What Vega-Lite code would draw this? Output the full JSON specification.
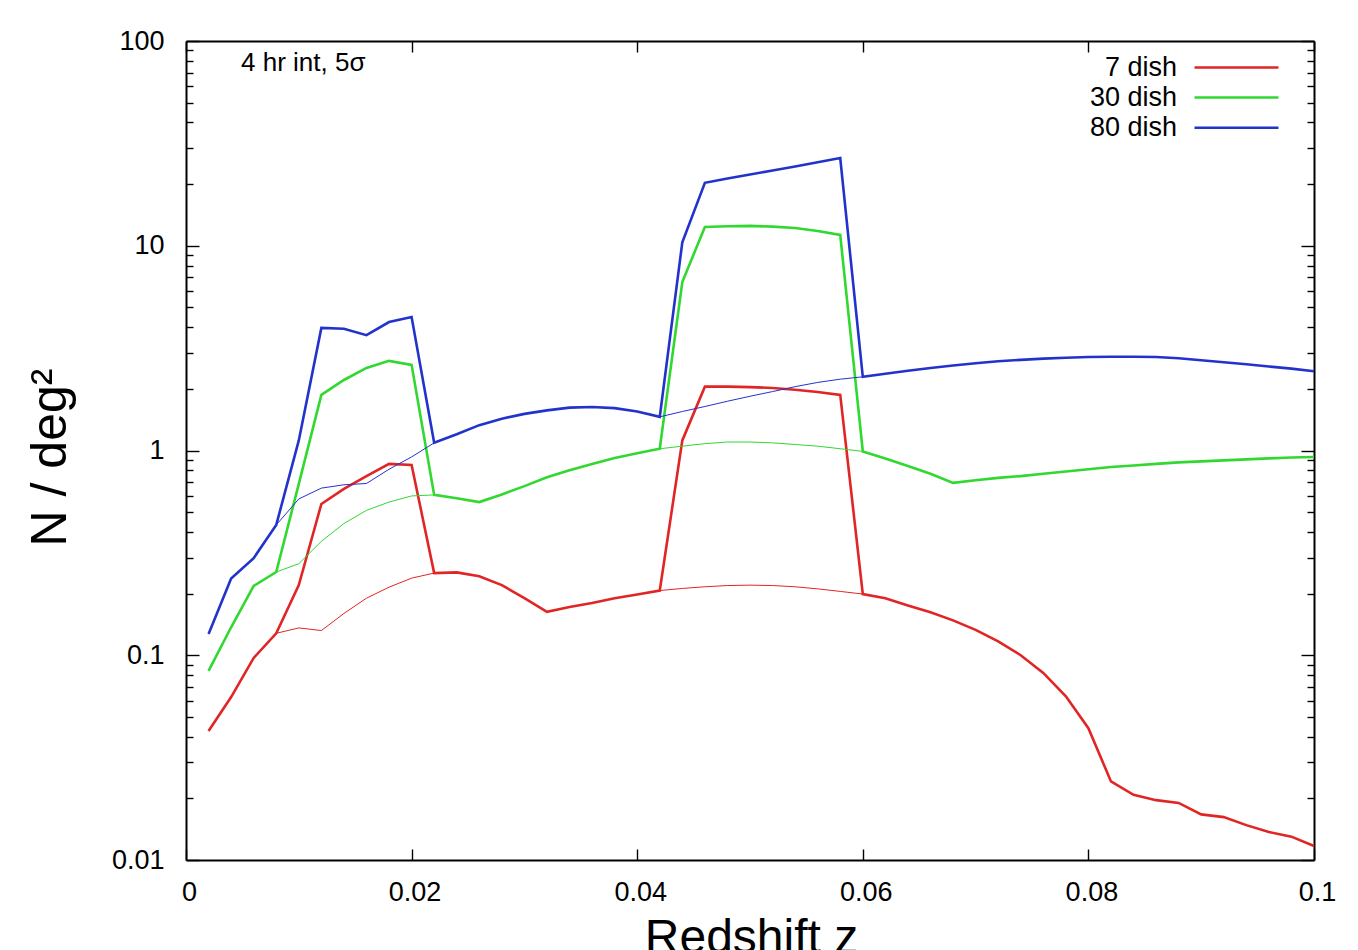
{
  "$schema": "https://vega.github.io/schema/vega-lite/v6.json",
  "width": 1128,
  "height": 819,
  "autosize": {"type": "none"},
  "padding": {"left": 186, "top": 41, "right": 44, "bottom": 90},
  "background": "white",
  "config": {
    "view": {"stroke": null},
    "font": "Liberation Sans",
    "axis": {"grid": false, "domainColor": "#000", "domainWidth": 2, "tickColor": "#000", "tickWidth": 1.4, "labelColor": "#000", "titleColor": "#000", "labelFont": "Liberation Sans", "titleFont": "Liberation Sans", "labelFontSize": 27, "titleFontWeight": "normal"},
    "legend": {"orient": "none", "legendX": 1037, "legendY": 13, "padding": 0, "labelAlign": "right", "labelOffset": -73, "labelFontSize": 27, "labelFont": "Liberation Sans", "labelColor": "#000", "symbolType": "M-5,0H5", "symbolSize": 282, "symbolStrokeWidth": 2.5, "rowPadding": 2.1, "labelLimit": 0}
  },
  "datasets": {
    "curves": [
    {"dish":"7 dish","kind":"thick","part":0,"z":0.002,"n":0.0427},
    {"dish":"7 dish","kind":"thick","part":0,"z":0.004,"n":0.0625},
    {"dish":"7 dish","kind":"thick","part":0,"z":0.006,"n":0.097},
    {"dish":"7 dish","kind":"thick","part":0,"z":0.008,"n":0.128},
    {"dish":"7 dish","kind":"thick","part":0,"z":0.010,"n":0.22},
    {"dish":"7 dish","kind":"thick","part":0,"z":0.012,"n":0.548},
    {"dish":"7 dish","kind":"thick","part":0,"z":0.014,"n":0.65},
    {"dish":"7 dish","kind":"thick","part":0,"z":0.016,"n":0.75},
    {"dish":"7 dish","kind":"thick","part":0,"z":0.018,"n":0.86},
    {"dish":"7 dish","kind":"thick","part":0,"z":0.020,"n":0.85},
    {"dish":"7 dish","kind":"thick","part":0,"z":0.022,"n":0.252},
    {"dish":"7 dish","kind":"thick","part":0,"z":0.024,"n":0.254},
    {"dish":"7 dish","kind":"thick","part":0,"z":0.026,"n":0.243},
    {"dish":"7 dish","kind":"thick","part":0,"z":0.028,"n":0.22},
    {"dish":"7 dish","kind":"thick","part":0,"z":0.030,"n":0.19},
    {"dish":"7 dish","kind":"thick","part":0,"z":0.032,"n":0.163},
    {"dish":"7 dish","kind":"thick","part":0,"z":0.034,"n":0.172},
    {"dish":"7 dish","kind":"thick","part":0,"z":0.036,"n":0.18},
    {"dish":"7 dish","kind":"thick","part":0,"z":0.038,"n":0.19},
    {"dish":"7 dish","kind":"thick","part":0,"z":0.040,"n":0.198},
    {"dish":"7 dish","kind":"thick","part":0,"z":0.042,"n":0.207},
    {"dish":"7 dish","kind":"thick","part":0,"z":0.044,"n":1.12},
    {"dish":"7 dish","kind":"thick","part":0,"z":0.046,"n":2.05},
    {"dish":"7 dish","kind":"thick","part":0,"z":0.048,"n":2.05},
    {"dish":"7 dish","kind":"thick","part":0,"z":0.050,"n":2.04},
    {"dish":"7 dish","kind":"thick","part":0,"z":0.052,"n":2.02},
    {"dish":"7 dish","kind":"thick","part":0,"z":0.054,"n":1.98},
    {"dish":"7 dish","kind":"thick","part":0,"z":0.056,"n":1.93},
    {"dish":"7 dish","kind":"thick","part":0,"z":0.058,"n":1.87},
    {"dish":"7 dish","kind":"thick","part":0,"z":0.060,"n":0.199},
    {"dish":"7 dish","kind":"thick","part":0,"z":0.062,"n":0.19},
    {"dish":"7 dish","kind":"thick","part":0,"z":0.064,"n":0.175},
    {"dish":"7 dish","kind":"thick","part":0,"z":0.066,"n":0.162},
    {"dish":"7 dish","kind":"thick","part":0,"z":0.068,"n":0.148},
    {"dish":"7 dish","kind":"thick","part":0,"z":0.070,"n":0.133},
    {"dish":"7 dish","kind":"thick","part":0,"z":0.072,"n":0.117},
    {"dish":"7 dish","kind":"thick","part":0,"z":0.074,"n":0.1},
    {"dish":"7 dish","kind":"thick","part":0,"z":0.076,"n":0.082},
    {"dish":"7 dish","kind":"thick","part":0,"z":0.078,"n":0.063},
    {"dish":"7 dish","kind":"thick","part":0,"z":0.080,"n":0.044},
    {"dish":"7 dish","kind":"thick","part":0,"z":0.082,"n":0.0242},
    {"dish":"7 dish","kind":"thick","part":0,"z":0.084,"n":0.0208},
    {"dish":"7 dish","kind":"thick","part":0,"z":0.086,"n":0.0196},
    {"dish":"7 dish","kind":"thick","part":0,"z":0.088,"n":0.019},
    {"dish":"7 dish","kind":"thick","part":0,"z":0.090,"n":0.0167},
    {"dish":"7 dish","kind":"thick","part":0,"z":0.092,"n":0.0162},
    {"dish":"7 dish","kind":"thick","part":0,"z":0.094,"n":0.0148},
    {"dish":"7 dish","kind":"thick","part":0,"z":0.096,"n":0.0137},
    {"dish":"7 dish","kind":"thick","part":0,"z":0.098,"n":0.013},
    {"dish":"7 dish","kind":"thick","part":0,"z":0.100,"n":0.0117},
    {"dish":"7 dish","kind":"thin","part":1,"z":0.008,"n":0.128},
    {"dish":"7 dish","kind":"thin","part":1,"z":0.010,"n":0.136},
    {"dish":"7 dish","kind":"thin","part":1,"z":0.012,"n":0.132},
    {"dish":"7 dish","kind":"thin","part":1,"z":0.014,"n":0.16},
    {"dish":"7 dish","kind":"thin","part":1,"z":0.016,"n":0.19},
    {"dish":"7 dish","kind":"thin","part":1,"z":0.018,"n":0.215},
    {"dish":"7 dish","kind":"thin","part":1,"z":0.020,"n":0.238},
    {"dish":"7 dish","kind":"thin","part":1,"z":0.022,"n":0.252},
    {"dish":"7 dish","kind":"thin","part":2,"z":0.042,"n":0.207},
    {"dish":"7 dish","kind":"thin","part":2,"z":0.044,"n":0.212},
    {"dish":"7 dish","kind":"thin","part":2,"z":0.046,"n":0.216},
    {"dish":"7 dish","kind":"thin","part":2,"z":0.048,"n":0.219},
    {"dish":"7 dish","kind":"thin","part":2,"z":0.050,"n":0.22},
    {"dish":"7 dish","kind":"thin","part":2,"z":0.052,"n":0.219},
    {"dish":"7 dish","kind":"thin","part":2,"z":0.054,"n":0.216},
    {"dish":"7 dish","kind":"thin","part":2,"z":0.056,"n":0.211},
    {"dish":"7 dish","kind":"thin","part":2,"z":0.058,"n":0.205},
    {"dish":"7 dish","kind":"thin","part":2,"z":0.060,"n":0.199},

    {"dish":"30 dish","kind":"thick","part":0,"z":0.002,"n":0.0838},
    {"dish":"30 dish","kind":"thick","part":0,"z":0.004,"n":0.137},
    {"dish":"30 dish","kind":"thick","part":0,"z":0.006,"n":0.218},
    {"dish":"30 dish","kind":"thick","part":0,"z":0.008,"n":0.255},
    {"dish":"30 dish","kind":"thick","part":0,"z":0.010,"n":0.687},
    {"dish":"30 dish","kind":"thick","part":0,"z":0.012,"n":1.87},
    {"dish":"30 dish","kind":"thick","part":0,"z":0.014,"n":2.21},
    {"dish":"30 dish","kind":"thick","part":0,"z":0.016,"n":2.53},
    {"dish":"30 dish","kind":"thick","part":0,"z":0.018,"n":2.74},
    {"dish":"30 dish","kind":"thick","part":0,"z":0.020,"n":2.62},
    {"dish":"30 dish","kind":"thick","part":0,"z":0.022,"n":0.607},
    {"dish":"30 dish","kind":"thick","part":0,"z":0.024,"n":0.585},
    {"dish":"30 dish","kind":"thick","part":0,"z":0.026,"n":0.56},
    {"dish":"30 dish","kind":"thick","part":0,"z":0.028,"n":0.61},
    {"dish":"30 dish","kind":"thick","part":0,"z":0.030,"n":0.67},
    {"dish":"30 dish","kind":"thick","part":0,"z":0.032,"n":0.74},
    {"dish":"30 dish","kind":"thick","part":0,"z":0.034,"n":0.8},
    {"dish":"30 dish","kind":"thick","part":0,"z":0.036,"n":0.86},
    {"dish":"30 dish","kind":"thick","part":0,"z":0.038,"n":0.92},
    {"dish":"30 dish","kind":"thick","part":0,"z":0.040,"n":0.97},
    {"dish":"30 dish","kind":"thick","part":0,"z":0.042,"n":1.02},
    {"dish":"30 dish","kind":"thick","part":0,"z":0.044,"n":6.65},
    {"dish":"30 dish","kind":"thick","part":0,"z":0.046,"n":12.35},
    {"dish":"30 dish","kind":"thick","part":0,"z":0.048,"n":12.45},
    {"dish":"30 dish","kind":"thick","part":0,"z":0.050,"n":12.5},
    {"dish":"30 dish","kind":"thick","part":0,"z":0.052,"n":12.4},
    {"dish":"30 dish","kind":"thick","part":0,"z":0.054,"n":12.2},
    {"dish":"30 dish","kind":"thick","part":0,"z":0.056,"n":11.8},
    {"dish":"30 dish","kind":"thick","part":0,"z":0.058,"n":11.3},
    {"dish":"30 dish","kind":"thick","part":0,"z":0.060,"n":0.99},
    {"dish":"30 dish","kind":"thick","part":0,"z":0.062,"n":0.915},
    {"dish":"30 dish","kind":"thick","part":0,"z":0.064,"n":0.84},
    {"dish":"30 dish","kind":"thick","part":0,"z":0.066,"n":0.77},
    {"dish":"30 dish","kind":"thick","part":0,"z":0.068,"n":0.695},
    {"dish":"30 dish","kind":"thick","part":0,"z":0.070,"n":0.715},
    {"dish":"30 dish","kind":"thick","part":0,"z":0.072,"n":0.735},
    {"dish":"30 dish","kind":"thick","part":0,"z":0.074,"n":0.75},
    {"dish":"30 dish","kind":"thick","part":0,"z":0.076,"n":0.77},
    {"dish":"30 dish","kind":"thick","part":0,"z":0.078,"n":0.79},
    {"dish":"30 dish","kind":"thick","part":0,"z":0.080,"n":0.81},
    {"dish":"30 dish","kind":"thick","part":0,"z":0.082,"n":0.83},
    {"dish":"30 dish","kind":"thick","part":0,"z":0.084,"n":0.845},
    {"dish":"30 dish","kind":"thick","part":0,"z":0.086,"n":0.86},
    {"dish":"30 dish","kind":"thick","part":0,"z":0.088,"n":0.875},
    {"dish":"30 dish","kind":"thick","part":0,"z":0.090,"n":0.885},
    {"dish":"30 dish","kind":"thick","part":0,"z":0.092,"n":0.895},
    {"dish":"30 dish","kind":"thick","part":0,"z":0.094,"n":0.905},
    {"dish":"30 dish","kind":"thick","part":0,"z":0.096,"n":0.915},
    {"dish":"30 dish","kind":"thick","part":0,"z":0.098,"n":0.925},
    {"dish":"30 dish","kind":"thick","part":0,"z":0.100,"n":0.93},
    {"dish":"30 dish","kind":"thin","part":1,"z":0.008,"n":0.255},
    {"dish":"30 dish","kind":"thin","part":1,"z":0.010,"n":0.28},
    {"dish":"30 dish","kind":"thin","part":1,"z":0.012,"n":0.36},
    {"dish":"30 dish","kind":"thin","part":1,"z":0.014,"n":0.44},
    {"dish":"30 dish","kind":"thin","part":1,"z":0.016,"n":0.51},
    {"dish":"30 dish","kind":"thin","part":1,"z":0.018,"n":0.56},
    {"dish":"30 dish","kind":"thin","part":1,"z":0.020,"n":0.6},
    {"dish":"30 dish","kind":"thin","part":1,"z":0.022,"n":0.607},
    {"dish":"30 dish","kind":"thin","part":2,"z":0.042,"n":1.02},
    {"dish":"30 dish","kind":"thin","part":2,"z":0.044,"n":1.05},
    {"dish":"30 dish","kind":"thin","part":2,"z":0.046,"n":1.08},
    {"dish":"30 dish","kind":"thin","part":2,"z":0.048,"n":1.1},
    {"dish":"30 dish","kind":"thin","part":2,"z":0.050,"n":1.1},
    {"dish":"30 dish","kind":"thin","part":2,"z":0.052,"n":1.09},
    {"dish":"30 dish","kind":"thin","part":2,"z":0.054,"n":1.07},
    {"dish":"30 dish","kind":"thin","part":2,"z":0.056,"n":1.05},
    {"dish":"30 dish","kind":"thin","part":2,"z":0.058,"n":1.02},
    {"dish":"30 dish","kind":"thin","part":2,"z":0.060,"n":0.99},

    {"dish":"80 dish","kind":"thick","part":0,"z":0.002,"n":0.127},
    {"dish":"80 dish","kind":"thick","part":0,"z":0.004,"n":0.237},
    {"dish":"80 dish","kind":"thick","part":0,"z":0.006,"n":0.298},
    {"dish":"80 dish","kind":"thick","part":0,"z":0.008,"n":0.433},
    {"dish":"80 dish","kind":"thick","part":0,"z":0.010,"n":1.12},
    {"dish":"80 dish","kind":"thick","part":0,"z":0.012,"n":3.97},
    {"dish":"80 dish","kind":"thick","part":0,"z":0.014,"n":3.93},
    {"dish":"80 dish","kind":"thick","part":0,"z":0.016,"n":3.66},
    {"dish":"80 dish","kind":"thick","part":0,"z":0.018,"n":4.24},
    {"dish":"80 dish","kind":"thick","part":0,"z":0.020,"n":4.49},
    {"dish":"80 dish","kind":"thick","part":0,"z":0.022,"n":1.09},
    {"dish":"80 dish","kind":"thick","part":0,"z":0.024,"n":1.2},
    {"dish":"80 dish","kind":"thick","part":0,"z":0.026,"n":1.33},
    {"dish":"80 dish","kind":"thick","part":0,"z":0.028,"n":1.43},
    {"dish":"80 dish","kind":"thick","part":0,"z":0.030,"n":1.51},
    {"dish":"80 dish","kind":"thick","part":0,"z":0.032,"n":1.57},
    {"dish":"80 dish","kind":"thick","part":0,"z":0.034,"n":1.62},
    {"dish":"80 dish","kind":"thick","part":0,"z":0.036,"n":1.63},
    {"dish":"80 dish","kind":"thick","part":0,"z":0.038,"n":1.61},
    {"dish":"80 dish","kind":"thick","part":0,"z":0.040,"n":1.55},
    {"dish":"80 dish","kind":"thick","part":0,"z":0.042,"n":1.46},
    {"dish":"80 dish","kind":"thick","part":0,"z":0.044,"n":10.4},
    {"dish":"80 dish","kind":"thick","part":0,"z":0.046,"n":20.3},
    {"dish":"80 dish","kind":"thick","part":0,"z":0.048,"n":21.3},
    {"dish":"80 dish","kind":"thick","part":0,"z":0.050,"n":22.3},
    {"dish":"80 dish","kind":"thick","part":0,"z":0.052,"n":23.3},
    {"dish":"80 dish","kind":"thick","part":0,"z":0.054,"n":24.4},
    {"dish":"80 dish","kind":"thick","part":0,"z":0.056,"n":25.6},
    {"dish":"80 dish","kind":"thick","part":0,"z":0.058,"n":26.8},
    {"dish":"80 dish","kind":"thick","part":0,"z":0.060,"n":2.29},
    {"dish":"80 dish","kind":"thick","part":0,"z":0.062,"n":2.37},
    {"dish":"80 dish","kind":"thick","part":0,"z":0.064,"n":2.45},
    {"dish":"80 dish","kind":"thick","part":0,"z":0.066,"n":2.53},
    {"dish":"80 dish","kind":"thick","part":0,"z":0.068,"n":2.6},
    {"dish":"80 dish","kind":"thick","part":0,"z":0.070,"n":2.67},
    {"dish":"80 dish","kind":"thick","part":0,"z":0.072,"n":2.73},
    {"dish":"80 dish","kind":"thick","part":0,"z":0.074,"n":2.77},
    {"dish":"80 dish","kind":"thick","part":0,"z":0.076,"n":2.81},
    {"dish":"80 dish","kind":"thick","part":0,"z":0.078,"n":2.84},
    {"dish":"80 dish","kind":"thick","part":0,"z":0.080,"n":2.86},
    {"dish":"80 dish","kind":"thick","part":0,"z":0.082,"n":2.87},
    {"dish":"80 dish","kind":"thick","part":0,"z":0.084,"n":2.87},
    {"dish":"80 dish","kind":"thick","part":0,"z":0.086,"n":2.86},
    {"dish":"80 dish","kind":"thick","part":0,"z":0.088,"n":2.82},
    {"dish":"80 dish","kind":"thick","part":0,"z":0.090,"n":2.76},
    {"dish":"80 dish","kind":"thick","part":0,"z":0.092,"n":2.7},
    {"dish":"80 dish","kind":"thick","part":0,"z":0.094,"n":2.64},
    {"dish":"80 dish","kind":"thick","part":0,"z":0.096,"n":2.57},
    {"dish":"80 dish","kind":"thick","part":0,"z":0.098,"n":2.51},
    {"dish":"80 dish","kind":"thick","part":0,"z":0.100,"n":2.44},
    {"dish":"80 dish","kind":"thin","part":1,"z":0.008,"n":0.433},
    {"dish":"80 dish","kind":"thin","part":1,"z":0.010,"n":0.58},
    {"dish":"80 dish","kind":"thin","part":1,"z":0.012,"n":0.655},
    {"dish":"80 dish","kind":"thin","part":1,"z":0.014,"n":0.68},
    {"dish":"80 dish","kind":"thin","part":1,"z":0.016,"n":0.69},
    {"dish":"80 dish","kind":"thin","part":1,"z":0.018,"n":0.81},
    {"dish":"80 dish","kind":"thin","part":1,"z":0.020,"n":0.93},
    {"dish":"80 dish","kind":"thin","part":1,"z":0.022,"n":1.09},
    {"dish":"80 dish","kind":"thin","part":2,"z":0.042,"n":1.46},
    {"dish":"80 dish","kind":"thin","part":2,"z":0.044,"n":1.55},
    {"dish":"80 dish","kind":"thin","part":2,"z":0.046,"n":1.64},
    {"dish":"80 dish","kind":"thin","part":2,"z":0.048,"n":1.74},
    {"dish":"80 dish","kind":"thin","part":2,"z":0.050,"n":1.84},
    {"dish":"80 dish","kind":"thin","part":2,"z":0.052,"n":1.94},
    {"dish":"80 dish","kind":"thin","part":2,"z":0.054,"n":2.05},
    {"dish":"80 dish","kind":"thin","part":2,"z":0.056,"n":2.15},
    {"dish":"80 dish","kind":"thin","part":2,"z":0.058,"n":2.23},
    {"dish":"80 dish","kind":"thin","part":2,"z":0.060,"n":2.29}
    ],
    "note": [{"label": "4 hr int, 5σ"}]
  },
  "layer": [
    {
      "data": {"name": "curves"},
      "mark": {"type": "line", "interpolate": "linear", "strokeJoin": "miter", "strokeCap": "butt"},
      "encoding": {
        "x": {"field": "z", "type": "quantitative", "scale": {"domain": [0, 0.1], "nice": false, "zero": false},
              "axis": {"orient": "bottom", "values": [0, 0.02, 0.04, 0.06, 0.08, 0.1], "format": "~g", "tickSize": -11, "labelPadding": 30, "labelOffset": 3, "labelFlush": false,
                       "title": "Redshift z", "titleFontSize": 48, "titleX": 565, "titleY": 92, "titleBaseline": "alphabetic", "titleAlign": "center"}},
        "y": {"field": "n", "type": "quantitative", "scale": {"type": "log", "domain": [0.01, 100], "nice": false},
              "axis": {"orient": "left", "values": [0.01,0.02,0.03,0.04,0.05,0.06,0.07,0.08,0.09,0.1,0.2,0.3,0.4,0.5,0.6,0.7,0.8,0.9,1,2,3,4,5,6,7,8,9,10,20,30,40,50,60,70,80,90,100],
                       "format": "~g", "labelFlush": false,
                       "labelExpr": "indexof([0.01,0.1,1,10,100], datum.value) >= 0 ? datum.label : ''",
                       "tickSize": {"condition": {"test": "indexof([0.01,0.1,1,10,100], datum.value) >= 0", "value": -13}, "value": -7},
                       "labelPadding": 35,
                       "title": "N / deg²", "titleFontSize": 50, "titleAngle": -90, "titleX": -121, "titleY": 416, "titleBaseline": "alphabetic", "titleAlign": "center"}},
        "color": {"field": "dish", "type": "nominal", "scale": {"domain": ["7 dish", "30 dish", "80 dish"], "range": ["#e12525", "#30d830", "#2233cc"]}, "legend": {"title": null}},
        "strokeWidth": {"field": "kind", "type": "nominal", "scale": {"domain": ["thick", "thin"], "range": [2.6, 1]}, "legend": null},
        "detail": {"field": "part", "type": "nominal"}
      }
    },
    {
      "data": {"name": "note"},
      "mark": {"type": "text", "align": "left", "baseline": "alphabetic", "fontSize": 26, "font": "Liberation Sans", "color": "#000"},
      "encoding": {
        "x": {"datum": 0.00488, "type": "quantitative",
              "axis": {"orient": "top", "values": [0, 0.02, 0.04, 0.06, 0.08, 0.1], "labels": false, "tickSize": -11, "title": null}},
        "y": {"datum": 71.4, "type": "quantitative", "scale": {"type": "log", "domain": [0.01, 100], "nice": false},
              "axis": {"orient": "right", "values": [0.01,0.02,0.03,0.04,0.05,0.06,0.07,0.08,0.09,0.1,0.2,0.3,0.4,0.5,0.6,0.7,0.8,0.9,1,2,3,4,5,6,7,8,9,10,20,30,40,50,60,70,80,90,100],
                       "labels": false,
                       "tickSize": {"condition": {"test": "indexof([0.01,0.1,1,10,100], datum.value) >= 0", "value": -13}, "value": -7},
                       "title": null}},
        "text": {"field": "label", "type": "nominal"}
      }
    }
  ],
  "resolve": {"axis": {"x": "independent", "y": "independent"}}
}
